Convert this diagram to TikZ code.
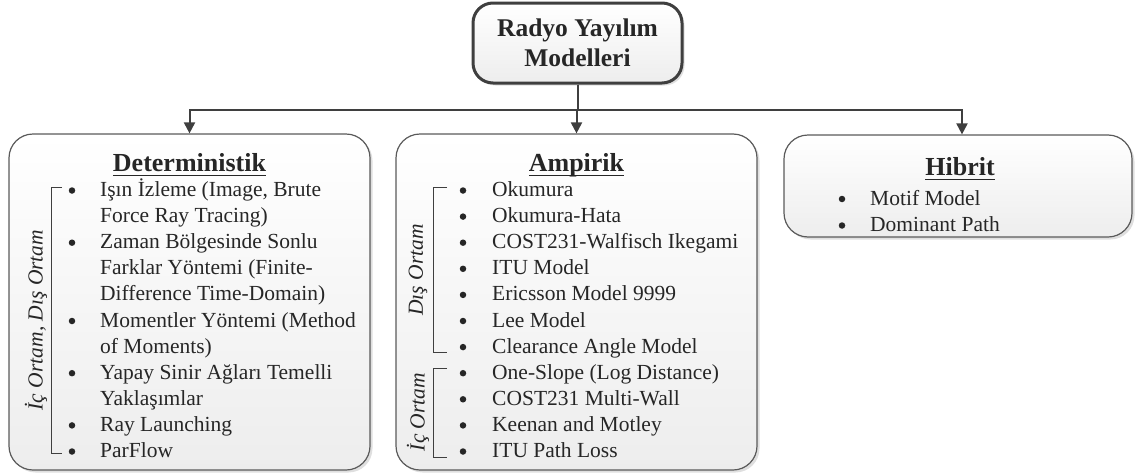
\documentclass[tikz,border=0pt]{standalone}
\usepackage{fontspec}
\setmainfont{Liberation Serif}
\usetikzlibrary{arrows.meta,shadows,calc}
\definecolor{kenar}{HTML}{5A5A5A}
\definecolor{koyu}{HTML}{3F3F3F}
\definecolor{yazi}{HTML}{262626}
\newcommand{\altcizgi}[1]{\setbox0\hbox{#1}\rlap{\rule[-5pt]{\wd0}{1.5pt}}\box0}
\tikzset{
	kutu/.style={draw=kenar, line width=1.2pt, rounded corners=24pt, top color=white, bottom color=gray!14,
		drop shadow={opacity=0.25,shadow xshift=2.5pt,shadow yshift=-2.5pt}, inner sep=0pt},
	anakutu/.style={kutu, draw=koyu, line width=3pt, rounded corners=20pt},
	baglanti/.style={draw=koyu, line width=2pt, -{Triangle[length=11pt,width=11pt]}},
	madde/.style={anchor=base west, inner sep=0pt, text=yazi, font=\fontsize{21.5}{26}\selectfont},
	nokta/.style={circle, fill=yazi, inner sep=0pt, minimum size=6.5pt},
	baslik/.style={anchor=base, inner sep=0pt, text=yazi, font=\fontsize{26}{30}\selectfont\bfseries},
	ayrac/.style={draw=koyu, line width=0.9pt},
	ortam/.style={rotate=90, inner sep=0pt, text=yazi, font=\fontsize{21.5}{26}\selectfont\itshape}
}
\begin{document}
\begin{tikzpicture}[x=1pt,y=1pt]
		\useasboundingbox (0,0) rectangle (1135,-474);
		% kutular
		\node[anakutu, minimum width=209pt, minimum height=80pt, align=center, text=yazi,
			font=\fontsize{25.5}{30}\selectfont\bfseries] (radyo) at (577.5,-43) {Radyo Yayılım\\Modelleri};
		\node[kutu, minimum width=361pt, minimum height=336pt] (det) at (189.5,-302) {};
		\node[kutu, minimum width=361pt, minimum height=336pt] (amp) at (576.5,-302) {};
		\node[kutu, minimum width=348pt, minimum height=102pt] (hib) at (958,-186) {};
		% baglantilar
		\coordinate (bus) at ($(radyo.south)+(0,-25.5)$);
		\draw[baglanti] (radyo.south) -- (bus) -| (det.north);
		\draw[baglanti] (radyo.south) -- (bus) -| (amp.north);
		\draw[baglanti] (radyo.south) -- (bus) -| ([xshift=4pt]hib.north);
		% basliklar
		\node[baslik] (detb) at (189.5,-171) {\altcizgi{Deterministik}};
		\node[baslik] (ampb) at (576.5,-171) {\altcizgi{Ampirik}};
		\node[baslik] (hibb) at (960,-175) {\altcizgi{Hibrit}};
		% deterministik
		\foreach \k/\t in {0/{Işın İzleme (Image, Brute},1/{Force Ray Tracing)},2/{Zaman Bölgesinde Sonlu},3/{Farklar Yöntemi (Finite-},4/{Difference Time-Domain)},5/{Momentler Yöntemi (Method},6/{of Moments)},7/{Yapay Sinir Ağları Temelli},8/{Yaklaşımlar},9/{Ray Launching},10/{ParFlow}}
		\node[madde] (d\k) at (100,{-196.5-26.1*\k}) {\t};
		\foreach \k in {0,2,5,7,9,10}
		\node[nokta] (db\k) at (72,{-190.5-26.1*\k}) {};
		\draw[ayrac] (62,-187) -- (51,-187) -- (51,-453) -- (62,-453);
		\node[ortam] (detl) at (36,-320) {İç Ortam, Dış Ortam};
		% ampirik
		\foreach \k/\t in {0/Okumura,1/Okumura-Hata,2/COST231-Walfisch Ikegami,3/ITU Model,4/Ericsson Model 9999,5/Lee Model,6/Clearance Angle Model,7/One-Slope (Log Distance),8/COST231 Multi-Wall,9/Keenan and Motley,10/ITU Path Loss}{
			\node[madde] (a\k) at (492,{-196.5-26.1*\k}) {\t};
			\node[nokta] (ab\k) at (463,{-190.5-26.1*\k}) {};}
		\draw[ayrac] (447,-187) -- (433,-187) -- (433,-352) -- (447,-352);
		\draw[ayrac] (447,-368) -- (433,-368) -- (433,-457) -- (447,-457);
		\node[ortam] (dis) at (418,-270) {Dış Ortam};
		\node[ortam] (ic) at (418,-412) {İç Ortam};
		% hibrit
		\foreach \k/\t in {0/Motif Model,1/Dominant Path}{
			\node[madde] (h\k) at (870,{-205-26.5*\k}) {\t};
			\node[nokta] (hb\k) at (842,{-199-26.5*\k}) {};}
	\end{tikzpicture}
\end{document}
